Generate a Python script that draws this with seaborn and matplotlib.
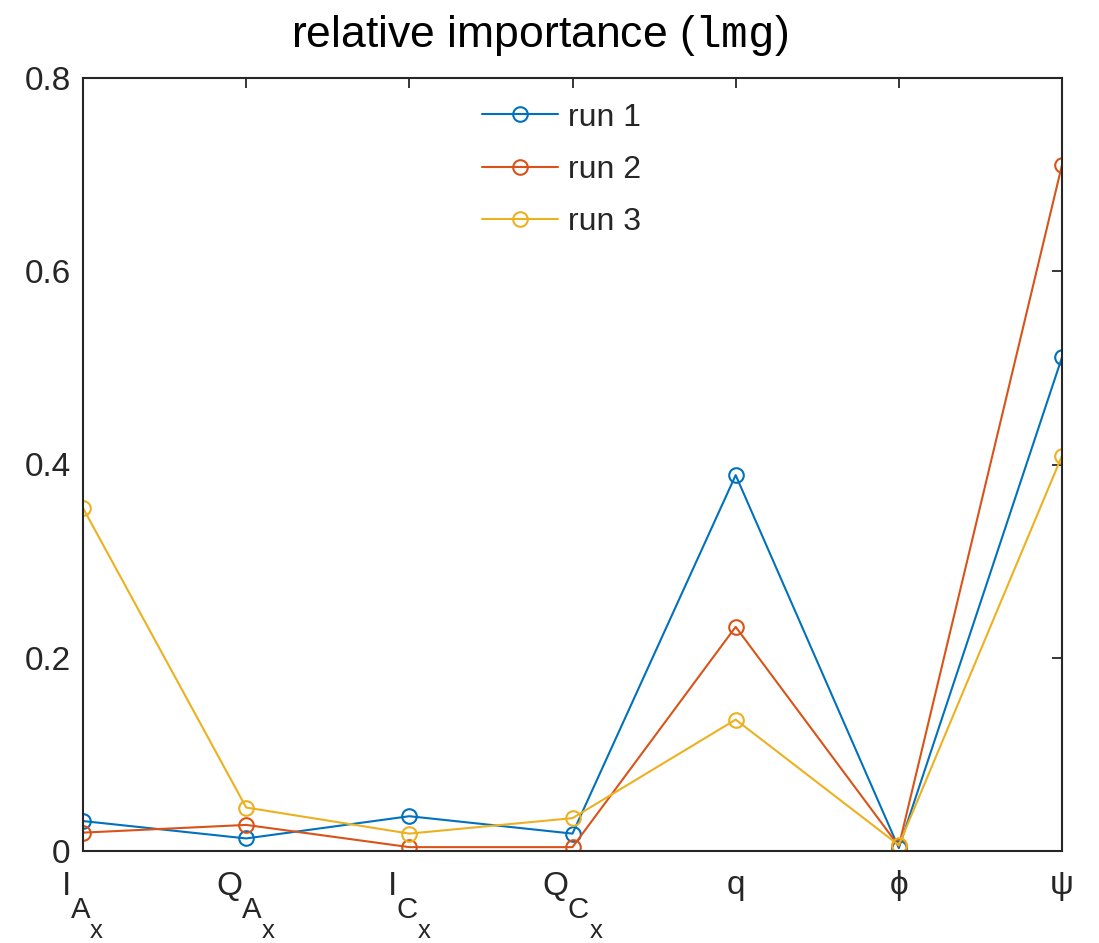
import numpy as np
import pandas as pd
import matplotlib
matplotlib.use("Agg")
import matplotlib.pyplot as plt
import matplotlib._mathtext as _mt
import seaborn as sns

categories = [r'$I_{A_x}$', r'$Q_{A_x}$', r'$I_{C_x}$', r'$Q_{C_x}$', 'q', 'ϕ', 'ψ']
run1 = [0.031, 0.013, 0.036, 0.018, 0.389, 0.003, 0.511]
run2 = [0.019, 0.027, 0.004, 0.004, 0.232, 0.005, 0.710]
run3 = [0.355, 0.045, 0.018, 0.034, 0.136, 0.006, 0.409]
runs = {'run 1': run1, 'run 2': run2, 'run 3': run3}
colors = {'run 1': '#0072BD', 'run 2': '#D95319', 'run 3': '#EDB120'}
yticks = [0, 0.2, 0.4, 0.6, 0.8]
ytick_labels = ['0', '0.2', '0.4', '0.6', '0.8']

# MATLAB-like (deeper, larger) subscripts
try:
    _mt.FontConstantsBase.sub1 = 1.28
    _mt.FontConstantsBase.sub2 = 1.28
    _mt.SHRINK_FACTOR = 0.88
except Exception:
    pass

sns.set_theme(style='white')
plt.rcParams['font.family'] = ['Liberation Sans', 'DejaVu Sans']
plt.rcParams['mathtext.fontset'] = 'custom'
plt.rcParams['mathtext.rm'] = 'Liberation Sans'
plt.rcParams['mathtext.it'] = 'Liberation Sans'
plt.rcParams['mathtext.tt'] = 'Liberation Mono'

rows = []
for name, vals in runs.items():
    for i, v in enumerate(vals):
        rows.append({'run': name, 'idx': i, 'val': v})
df = pd.DataFrame(rows)

fig = plt.figure(figsize=(10.99, 9.43), dpi=100)
ax = fig.add_axes([83/1099, 1-851/943, (1062-83)/1099, (851-78)/943])

for name in runs:
    sub = df[df['run'] == name]
    c = colors[name]
    sns.lineplot(data=sub, x='idx', y='val', ax=ax, color=c, label=name,
                 marker='o', markersize=10.5, markerfacecolor='none',
                 markeredgecolor=c, markeredgewidth=1.5, linewidth=1.5)

ax.set_xlim(0, 6)
ax.set_ylim(0, 0.8)
ax.set_xticks(range(len(categories)))
ax.set_xticklabels(categories)
ax.set_yticks(yticks)
ax.set_yticklabels(ytick_labels)
ax.set_xlabel('')
ax.set_ylabel('')
ax.tick_params(axis='both', direction='in', top=True, right=True, length=7,
               width=1.3, color='#262626', labelsize=24, labelcolor='#262626')
ax.tick_params(axis='y', pad=9)
ax.tick_params(axis='x', pad=14, labelsize=24)
for s in ax.spines.values():
    s.set_visible(True)
    s.set_color('#262626')
    s.set_linewidth(1.5)

ax.set_title(r'relative importance ($\mathtt{lmg}$)', fontsize=32, pad=22,
             color='black', x=(540-83)/979)
ax.legend(loc='upper center', bbox_to_anchor=(0.489, 0.997), frameon=False,
          fontsize=23, handlelength=2.38, handletextpad=0.31,
          labelspacing=0.7, borderaxespad=0.3)

fig.savefig('out.png', dpi=100)
